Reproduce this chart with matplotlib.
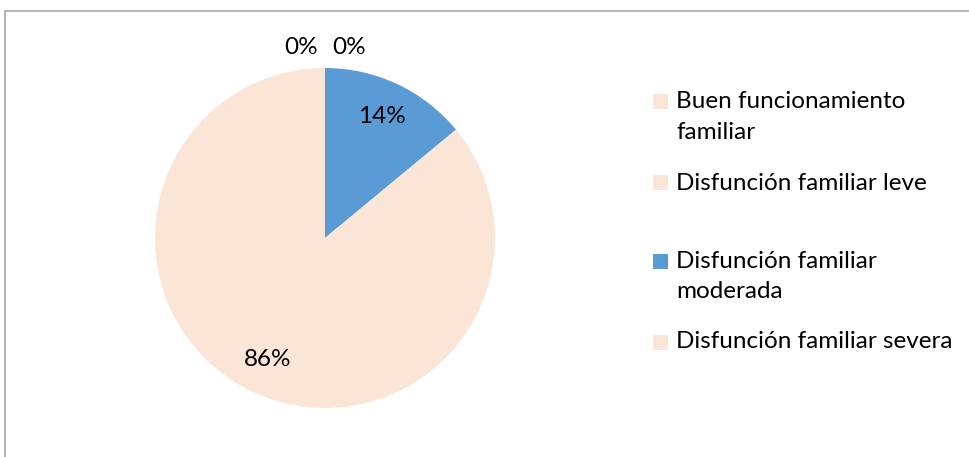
# Pie chart: funcionamiento familiar
import numpy as np
import matplotlib.pyplot as plt
from matplotlib.patches import Rectangle

categories = ['Buen funcionamiento\nfamiliar', 'Disfunción familiar leve',
              'Disfunción familiar\nmoderada', 'Disfunción familiar severa']
values = [0, 0, 14, 86]
colors = ['#FBE5D6', '#FBE5D6', '#5B9BD5', '#FBE5D6']

# legend rows (figure pixels from top, first line of each label)
legend_y = [102, 183, 261, 342]
line_h = 30

W, H = 970, 457
FONT = 'Lato'
SIZE = 17.5

fig = plt.figure(figsize=(W / 100, H / 100), dpi=100)
fig.patch.set_facecolor('white')

# chart frame (cut at right and bottom like the original)
fig.patches.append(Rectangle((5 / W, -0.1), 1.1, 1 - 11 / H + 0.1,
                             transform=fig.transFigure, fill=False,
                             edgecolor='#A6A6A6', linewidth=1.2))

cx, cy, r = 325, 219, 170
ax = fig.add_axes([(cx - r) / W, (cy - r) / H, 2 * r / W, 2 * r / H])
wedges, texts, autotexts = ax.pie(values, colors=colors, startangle=90,
                                  counterclock=False, autopct='%1.0f%%',
                                  pctdistance=0.79,
                                  wedgeprops=dict(linewidth=0),
                                  textprops=dict(family=FONT, size=SIZE, color='black'))
ax.set_xlim(-1, 1)
ax.set_ylim(-1, 1)

# zero slices: labels pushed outside the pie, side by side
zero_idx = [i for i, v in enumerate(values) if v == 0]
for k, i in enumerate(zero_idx):
    dx = (k - (len(zero_idx) - 1) / 2) * 0.28
    autotexts[i].set_position((dx, 1.12))

# legend drawn by hand
box = 15
for lab, col, y in zip(categories, colors, legend_y):
    fig.patches.append(Rectangle((653 / W, 1 - (y + box / 2) / H), box / W, box / H,
                                 transform=fig.transFigure, facecolor=col,
                                 edgecolor='none'))
    for j, line in enumerate(lab.split('\n')):
        fig.text(676 / W, 1 - (y + j * line_h) / H, line, family=FONT, size=SIZE,
                 va='center', ha='left')

fig.savefig('out.png', dpi=100)
